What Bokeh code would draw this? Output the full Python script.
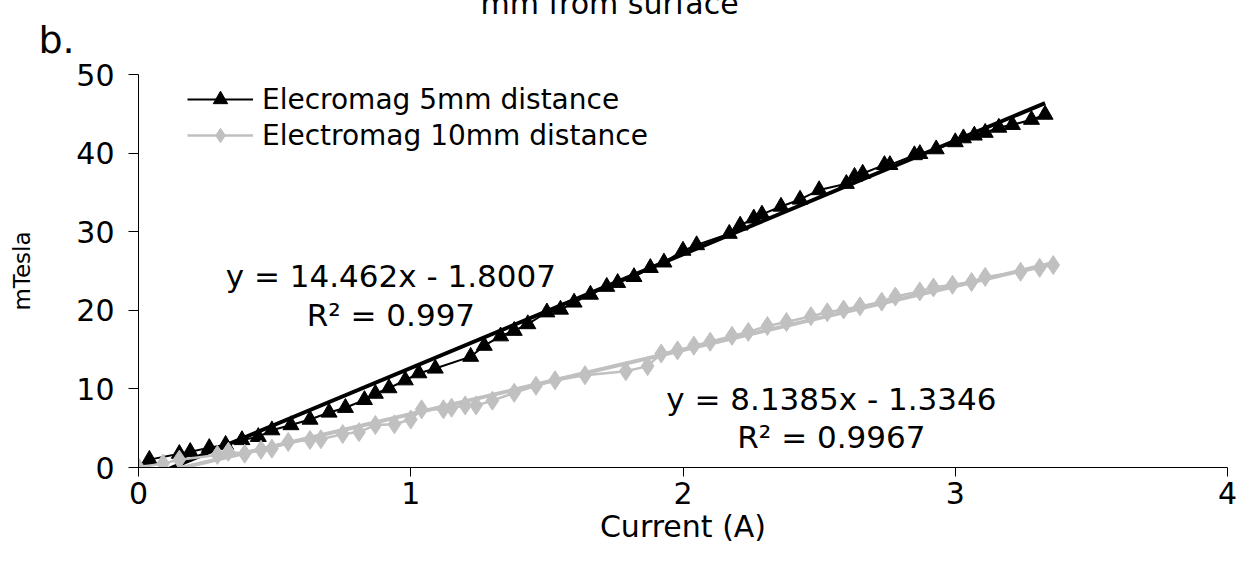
from bokeh.plotting import figure
from bokeh.models import Label, Legend, LegendItem, FixedTicker, Range1d, Title
from bokeh.embed import file_html
from bokeh.resources import INLINE
import numpy as np

# ---- data ----
x5 = [0, 0.04, 0.15, 0.19, 0.26, 0.32, 0.38, 0.44, 0.49, 0.56, 0.63, 0.70, 0.76, 0.83, 0.87,
      0.92, 0.98, 1.03, 1.09, 1.22, 1.27, 1.33, 1.38, 1.43, 1.50, 1.55, 1.60, 1.66, 1.72, 1.76,
      1.82, 1.88, 1.93, 2.00, 2.05, 2.17, 2.21, 2.26, 2.29, 2.36, 2.43, 2.50, 2.60, 2.63, 2.66,
      2.74, 2.76, 2.85, 2.87, 2.93, 3.00, 3.03, 3.07, 3.11, 3.16, 3.21, 3.28, 3.33]
y5 = [0, 1.0, 1.75, 2.0, 2.5, 2.9, 3.5, 3.9, 4.75, 5.4, 6.1, 7.0, 7.6, 8.6, 9.4,
      10.1, 11.1, 12.0, 12.6, 14.1, 15.5, 16.7, 17.4, 18.25, 19.75, 20.1, 21.0, 22.0, 23.0, 23.5,
      24.25, 25.4, 26.1, 27.6, 28.3, 29.75, 30.8, 31.7, 32.2, 33.2, 34.1, 35.3, 36.1, 37.0, 37.4,
      38.5, 38.5, 39.75, 39.9, 40.5, 41.4, 41.9, 42.25, 42.6, 43.25, 43.6, 44.25, 44.9]

x10 = [0, 0.09, 0.15, 0.29, 0.33, 0.39, 0.45, 0.49, 0.55, 0.63, 0.67, 0.75, 0.81, 0.87, 0.94,
       1.00, 1.04, 1.12, 1.15, 1.20, 1.24, 1.30, 1.38, 1.46, 1.53, 1.64, 1.79, 1.87, 1.92, 1.98,
       2.04, 2.10, 2.18, 2.24, 2.31, 2.38, 2.47, 2.53, 2.59, 2.65, 2.73, 2.78, 2.87, 2.92, 2.99,
       3.06, 3.11, 3.24, 3.31, 3.36]
y10 = [0, 0.5, 1.0, 1.6, 2.0, 1.75, 2.25, 2.4, 3.25, 3.5, 3.6, 4.25, 4.5, 5.4, 5.5,
       6.1, 7.4, 7.4, 7.6, 7.9, 7.9, 8.5, 9.5, 10.4, 11.1, 11.75, 12.25, 12.9, 14.5, 14.9,
       15.5, 16.0, 16.75, 17.25, 18.0, 18.5, 19.25, 19.75, 20.1, 20.5, 21.1, 21.75, 22.4, 22.9, 23.25,
       23.6, 24.25, 24.9, 25.4, 25.75]

fit5 = (14.462, -1.8007)
fit10 = (8.1385, -1.3346)
label5 = "Elecromag 5mm distance"
label10 = "Electromag 10mm distance"
eq5 = ["y = 14.462x - 1.8007", "R\u00b2 = 0.997"]
eq10 = ["y = 8.1385x - 1.3346", "R\u00b2 = 0.9967"]
x_ticks = [0, 1, 2, 3, 4]
y_ticks = [0, 10, 20, 30, 40, 50]

FONT = "DejaVu Sans"
GRAY = "#c0c0c0"

p = figure(width=1237, height=546, output_backend="svg", toolbar_location=None,
           x_range=Range1d(0, 4), y_range=Range1d(0, 50),
           min_border_left=138, min_border_right=10, min_border_top=74, min_border_bottom=76)
p.outline_line_color = None
p.xgrid.visible = False
p.ygrid.visible = False
p.background_fill_color = "white"
p.border_fill_color = "white"

for ax in (p.xaxis[0], p.yaxis[0]):
    ax.axis_line_color = "black"
    ax.major_tick_line_color = "black"
    ax.minor_tick_line_color = None
    ax.major_tick_in = 0
    ax.major_label_text_font = FONT
    ax.major_label_text_font_size = "30px"
    ax.major_label_text_color = "black"
    ax.axis_label_text_font = FONT
    ax.axis_label_text_font_style = "normal"
    ax.axis_label_text_color = "black"

p.xaxis.ticker = FixedTicker(ticks=x_ticks)
p.yaxis.ticker = FixedTicker(ticks=y_ticks)
p.xaxis.major_tick_out = 9
p.yaxis.major_tick_out = 10
p.xaxis.major_label_standoff = 5
p.yaxis.major_label_standoff = 14
p.xaxis.axis_label = "Current (A)"
p.xaxis.axis_label_text_font_size = "30px"
p.xaxis.axis_label_standoff = 2
p.yaxis.axis_label = "mTesla"
p.yaxis.axis_label_text_font_size = "23px"
p.yaxis.axis_label_standoff = 38

# trend lines (from fitted equations), clipped at y=0 by the frame
tx5 = np.array([0, x5[-1]])
tx10 = np.array([0, x10[-1]])
p.line(tx5, fit5[0] * tx5 + fit5[1], line_color="black", line_width=4)
p.line(tx10, fit10[0] * tx10 + fit10[1], line_color=GRAY, line_width=4)

l5 = p.line(x5, y5, line_color="black", line_width=2)
s5 = p.scatter(x5, y5, marker="triangle", size=16, fill_color="black", line_color="black")
l10 = p.line(x10, y10, line_color=GRAY, line_width=2.5)
s10 = p.scatter(x10, y10, marker="diamond", size=19, fill_color=GRAY, line_color=GRAY)

legend = Legend(items=[LegendItem(label=label5, renderers=[l5, s5]),
                       LegendItem(label=label10, renderers=[l10, s10])],
                location=(49, 314))
legend.background_fill_alpha = 0
legend.border_line_color = None
legend.label_text_font = FONT
legend.label_text_font_size = "28px"
legend.label_text_color = "black"
legend.glyph_width = 66
legend.glyph_height = 36
legend.label_height = 36
legend.label_standoff = 9
legend.spacing = 0
legend.padding = 0
legend.margin = 0
p.add_layout(legend)

def add_eq(lines, cx, cy1, cy2):
    for txt, cy in zip(lines, (cy1, cy2)):
        p.add_layout(Label(x=cx, y=cy, text=txt, text_align="center", text_baseline="middle",
                           text_font=FONT, text_font_size="31px", text_color="black"))

add_eq(eq5, 0.927, 24.4, 19.4)
add_eq(eq10, 2.545, 8.75, 3.9)

p.add_layout(Title(text="b.", align="left", offset=-100, standoff=26,
                   text_font=FONT, text_font_size="38px", text_font_style="normal",
                   text_color="black"), "above")
# second line of a title that is cut off by the picture's upper edge in the reference
p.add_layout(Title(text="mm from surface", align="left", offset=342, standoff=-36,
                   text_font=FONT, text_font_size="30px", text_font_style="normal",
                   text_color="black"), "above")

open("out.html", "w").write(file_html(p, INLINE))
